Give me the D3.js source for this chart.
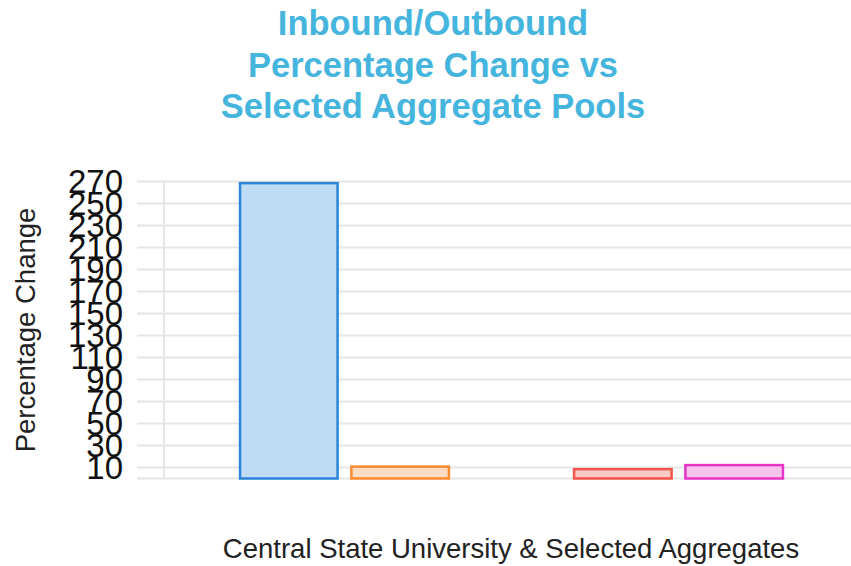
<!DOCTYPE html>
<html>
<head>
<meta charset="utf-8">
<script src="https://cdn.jsdelivr.net/npm/d3@7"></script>
<style>
  body { margin: 0; background: #fff; }
  text { font-family: "Liberation Sans", Arial, sans-serif; }
</style>
</head>
<body>
<div id="chart"></div>
<script>
// data
const categories = ['Central State University', 'Aggregate A', 'Aggregate B', 'Aggregate C', 'Aggregate D'];
const values = [268.5, 10.8, 0, 8.5, 12.2];
const strokes = ['#2a84d8', '#ff8a30', '#888888', '#f2544a', '#e634c6'];
const fills = ['#c0dcf5', '#ffdcc2', '#dddddd', '#fcc9c5', '#f7c2eb'];
const yTicks = [10, 30, 50, 70, 90, 110, 130, 150, 170, 190, 210, 230, 250, 270];
const titleLines = ['Inbound/Outbound', 'Percentage Change vs', 'Selected Aggregate Pools'];

const W = 851, H = 566;
const svg = d3.select('#chart').append('svg')
  .attr('width', W).attr('height', H);

const x = d3.scaleBand()
  .domain(categories)
  .range([165, 858])
  .paddingInner(0.124)
  .paddingOuter(0.674);

const y = d3.scaleLinear()
  .domain([0, 270])
  .range([478.5, 181.5]);

// gridlines (incl. the zero line)
svg.append('g')
  .selectAll('line')
  .data([0].concat(yTicks))
  .enter().append('line')
  .attr('x1', 137).attr('x2', W)
  .attr('y1', d => y(d)).attr('y2', d => y(d))
  .attr('stroke', '#e6e6e6').attr('stroke-width', 2);

svg.append('line')
  .attr('x1', 164).attr('x2', 164)
  .attr('y1', y(270)).attr('y2', y(0))
  .attr('stroke', '#e6e6e6').attr('stroke-width', 2);

// y axis labels (they overlap in the original too)
const yAxis = svg.append('g')
  .attr('transform', 'translate(123,0)')
  .call(d3.axisLeft(y).tickValues(yTicks).tickSize(0).tickPadding(0));
yAxis.select('.domain').remove();
yAxis.selectAll('text')
  .attr('font-size', 33)
  .attr('font-family', '"Liberation Sans", Arial, sans-serif')
  .attr('fill', '#111');

// bars
svg.append('g')
  .selectAll('rect')
  .data(values)
  .enter().append('rect')
  .attr('x', (d, i) => x(categories[i]))
  .attr('y', d => y(d))
  .attr('width', x.bandwidth())
  .attr('height', d => y(0) - y(d))
  .attr('fill', (d, i) => fills[i])
  .attr('stroke', (d, i) => strokes[i])
  .attr('stroke-width', 2.5)
  .style('display', d => d > 0 ? null : 'none');

// title
svg.append('g')
  .selectAll('text')
  .data(titleLines)
  .enter().append('text')
  .attr('x', 433)
  .attr('y', (d, i) => 35 + i * 41.5)
  .attr('text-anchor', 'middle')
  .attr('font-size', 34.5)
  .attr('font-weight', 'bold')
  .attr('fill', '#45b5de')
  .text(d => d);

// axis titles
svg.append('text')
  .attr('transform', 'translate(35,330) rotate(-90)')
  .attr('text-anchor', 'middle')
  .attr('font-size', 27.5)
  .attr('fill', '#222')
  .text('Percentage Change');

svg.append('text')
  .attr('x', 511)
  .attr('y', 558)
  .attr('text-anchor', 'middle')
  .attr('font-size', 27.5)
  .attr('fill', '#222')
  .text('Central State University & Selected Aggregates');
</script>
</body>
</html>
